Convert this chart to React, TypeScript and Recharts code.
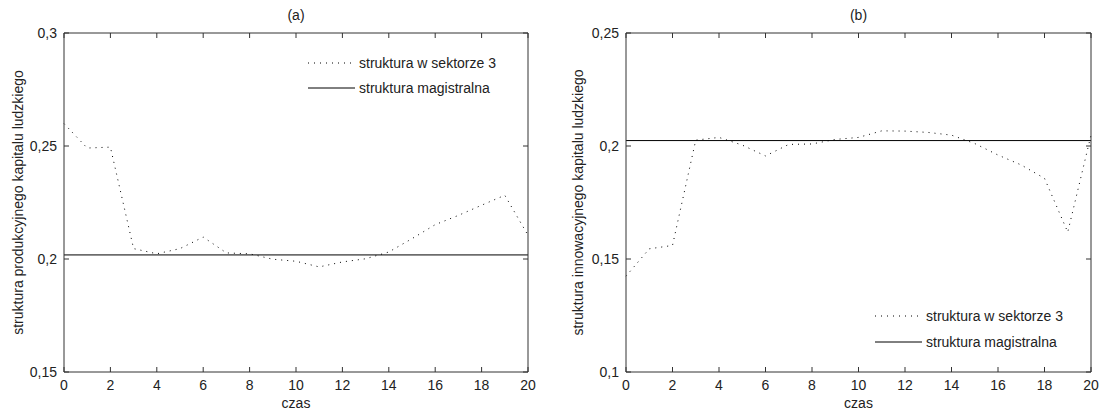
import {
  LineChart,
  Line,
  XAxis,
  YAxis,
  ReferenceLine,
  Legend,
} from "recharts";

// czas (time steps)
const czas = [0, 1, 2, 3, 4, 5, 6, 7, 8, 9, 10, 11, 12, 13, 14, 15, 16, 17, 18, 19, 20];

// (a) produkcyjny kapitał ludzki – struktura w sektorze 3
const sektor3Produkcyjny = [
  0.2599, 0.2491, 0.2495, 0.2046, 0.2023, 0.2046, 0.2097, 0.2027, 0.2023, 0.1999,
  0.199, 0.1965, 0.1987, 0.2001, 0.2031, 0.209, 0.2152, 0.2193, 0.2238, 0.2282, 0.2105,
];
const magistralaProdukcyjna = 0.2018;

// (b) innowacyjny kapitał ludzki – struktura w sektorze 3
const sektor3Innowacyjny = [
  0.1424, 0.1545, 0.156, 0.2026, 0.2038, 0.2004, 0.1956, 0.2007, 0.2009, 0.2029,
  0.2038, 0.2067, 0.2066, 0.206, 0.2048, 0.2011, 0.196, 0.1916, 0.1857, 0.1619, 0.2048,
];
const magistralaInnowacyjna = 0.2024;

const xTicks = [0, 2, 4, 6, 8, 10, 12, 14, 16, 18, 20];
const yTicksA = [0.15, 0.2, 0.25, 0.3];
const yTicksB = [0.1, 0.15, 0.2, 0.25];

const legendLabels = ["struktura w sektorze 3", "struktura magistralna"];

const INK = "#222";
const AXIS = "#333";
const FONT = 14;
const TICK_LEN = 5;

const fmt = (v: number) => String(v).replace(".", ",");

// MATLAB-style ticks: short marks pointing into the plot box
function BottomTick({ x, y, payload }: any) {
  return (
    <g>
      <line x1={x} x2={x} y1={y} y2={y - TICK_LEN} stroke={AXIS} />
      <text x={x} y={y + 8} dy="0.71em" textAnchor="middle" fontSize={FONT} fill={INK}>
        {payload.value}
      </text>
    </g>
  );
}

function LeftTick({ x, y, payload }: any) {
  return (
    <g>
      <line x1={x} x2={x + TICK_LEN} y1={y} y2={y} stroke={AXIS} />
      <text x={x - 7} y={y} dy="0.355em" textAnchor="end" fontSize={FONT} fill={INK}>
        {fmt(payload.value)}
      </text>
    </g>
  );
}

function TopTick({ x, y }: any) {
  return <line x1={x} x2={x} y1={y} y2={y + TICK_LEN} stroke={AXIS} />;
}

function RightTick({ x, y }: any) {
  return <line x1={x} x2={x - TICK_LEN} y1={y} y2={y} stroke={AXIS} />;
}

function MatlabLegend({ rowHeight }: { rowHeight: number }) {
  return (
    <div style={{ fontSize: FONT, color: INK }}>
      {legendLabels.map((label, i) => (
        <div key={label} style={{ display: "flex", alignItems: "center", height: rowHeight }}>
          <svg width={47} height={4} style={{ marginRight: 4 }}>
            <line
              x1={0}
              x2={47}
              y1={2}
              y2={2}
              stroke="#000"
              strokeWidth={1}
              strokeDasharray={i === 0 ? "1 5" : undefined}
            />
          </svg>
          <span>{label}</span>
        </div>
      ))}
    </div>
  );
}

interface PanelProps {
  title: string;
  yLabel: string;
  values: number[];
  magistrala: number;
  yDomain: [number, number];
  yTicks: number[];
  width: number;
  yAxisWidth: number;
  rightMargin: number;
  yLabelDx: number;
  legendPos: { left: number; top: number };
  legendRow: number;
}

function Panel({
  title,
  yLabel,
  values,
  magistrala,
  yDomain,
  yTicks,
  width,
  yAxisWidth,
  rightMargin,
  yLabelDx,
  legendPos,
  legendRow,
}: PanelProps) {
  const data = czas.map((t, i) => ({ czas: t, sektor: values[i] }));
  return (
    <LineChart
      width={width}
      height={414}
      data={data}
      margin={{ top: 32, right: rightMargin, bottom: 0, left: 0 }}
    >
      <XAxis
        dataKey="czas"
        type="number"
        domain={[0, 20]}
        ticks={xTicks}
        interval={0}
        height={42}
        tickSize={0}
        tickMargin={0}
        tickLine={false}
        stroke={AXIS}
        tick={<BottomTick />}
        label={{ value: "czas", position: "insideBottom", offset: 6, fontSize: FONT, fill: INK }}
      />
      <XAxis
        xAxisId="top"
        dataKey="czas"
        orientation="top"
        type="number"
        domain={[0, 20]}
        ticks={xTicks}
        interval={0}
        height={1}
        tickSize={0}
        tickMargin={0}
        tickLine={false}
        tick={<TopTick />}
        stroke={AXIS}
        label={{ value: title, position: "top", offset: 12, fontSize: FONT, fill: INK }}
      />
      <YAxis
        type="number"
        domain={yDomain}
        ticks={yTicks}
        interval={0}
        width={yAxisWidth}
        tickSize={0}
        tickMargin={0}
        tickLine={false}
        stroke={AXIS}
        tick={<LeftTick />}
        label={{
          value: yLabel,
          angle: -90,
          position: "center",
          dx: yLabelDx,
          fontSize: FONT,
          fill: INK,
        }}
      />
      <YAxis
        yAxisId="right"
        orientation="right"
        type="number"
        domain={yDomain}
        ticks={yTicks}
        interval={0}
        width={1}
        tickSize={0}
        tickMargin={0}
        tickLine={false}
        tick={<RightTick />}
        stroke={AXIS}
      />
      <ReferenceLine y={magistrala} stroke="#000" strokeWidth={1} />
      <Line
        type="linear"
        dataKey="sektor"
        stroke="#000"
        strokeWidth={1}
        strokeDasharray="1 5"
        dot={false}
        isAnimationActive={false}
      />
      {/* constant structure, also bound to the box axes so they get drawn */}
      <Line
        xAxisId="top"
        yAxisId="right"
        type="linear"
        dataKey={() => magistrala}
        stroke="none"
        dot={false}
        legendType="none"
        isAnimationActive={false}
      />
      <Legend
        layout="horizontal"
        verticalAlign="middle"
        align="center"
        wrapperStyle={{ left: legendPos.left, top: legendPos.top, width: "auto" }}
        content={() => <MatlabLegend rowHeight={legendRow} />}
      />
    </LineChart>
  );
}

export default function App() {
  return (
    <div
      style={{
        position: "absolute",
        left: 0,
        top: 0,
        width: 1105,
        height: 414,
        background: "#fff",
        fontFamily: '"Liberation Sans", Arial, sans-serif',
      }}
    >
      <div style={{ position: "absolute", left: 0, top: 0 }}>
        <Panel
          title="(a)"
          yLabel="struktura produkcyjnego kapitalu ludzkiego"
          values={sektor3Produkcyjny}
          magistrala={magistralaProdukcyjna}
          yDomain={[0.15, 0.3]}
          yTicks={yTicksA}
          width={552}
          yAxisWidth={64}
          rightMargin={23}
          yLabelDx={-14}
          legendPos={{ left: 308, top: 50 }}
          legendRow={25}
        />
      </div>
      <div style={{ position: "absolute", left: 552, top: 0 }}>
        <Panel
          title="(b)"
          yLabel="struktura innowacyjnego kapitalu ludzkiego"
          values={sektor3Innowacyjny}
          magistrala={magistralaInnowacyjna}
          yDomain={[0.1, 0.25]}
          yTicks={yTicksB}
          width={553}
          yAxisWidth={74}
          rightMargin={13}
          yLabelDx={-11}
          legendPos={{ left: 323, top: 303 }}
          legendRow={26}
        />
      </div>
    </div>
  );
}
